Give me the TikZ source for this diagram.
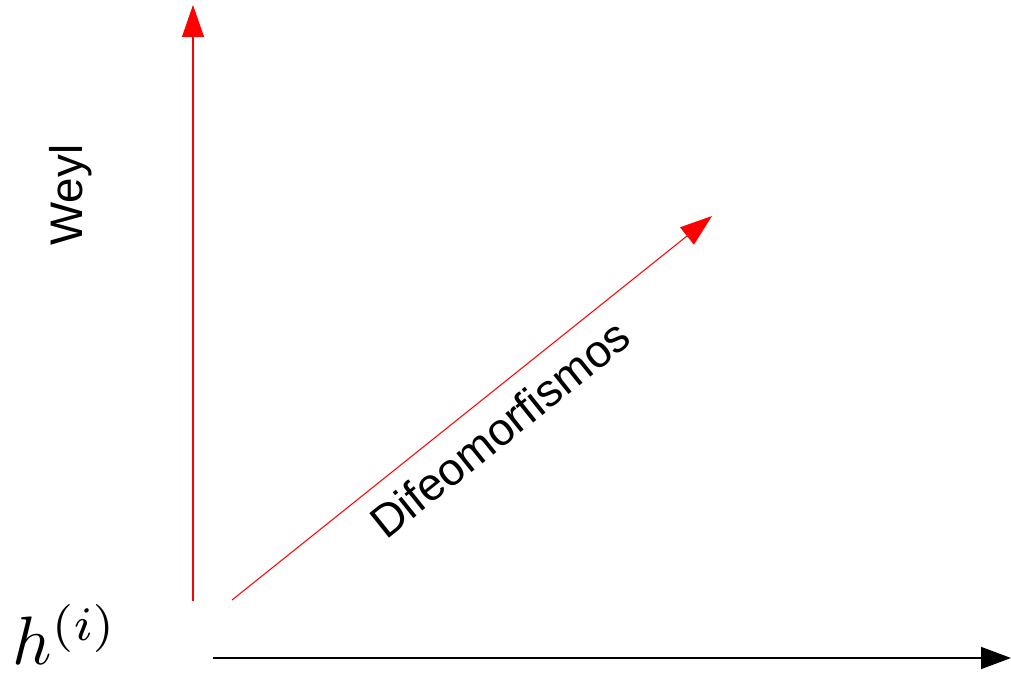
\documentclass[tikz,border=0pt]{standalone}
\usepackage{fontspec}
\setmainfont{Liberation Sans}
\usepackage{tikz}
\usetikzlibrary{arrows.meta, positioning, calc}
\tikzset{
  redarrow/.style   = {red, line width=0.6pt, -{Triangle[length=0.64cm, width=0.44cm]}},
  blackarrow/.style = {black, line width=0.9pt, -{Triangle[length=0.6cm, width=0.44cm]}},
  axislabel/.style  = {inner sep=0pt, font=\fontsize{26}{30}\selectfont},
}

\begin{document}
\begin{tikzpicture}

    \useasboundingbox (0,0) rectangle (20.22,13.5);

    %% End points of the arrows
    \coordinate (w0)   at (3.86, 1.48);
    \coordinate (wtip) at (3.86, 13.40);
    \coordinate (d0)   at (4.64, 1.50);
    \coordinate (dtip) at (14.24, 9.18);
    \coordinate (h0)   at (4.26, 0.34);
    \coordinate (htip) at (20.22, 0.34);

    %% Arrows
    \draw[redarrow]   (w0) -- (wtip);
    \draw[redarrow]   (d0) -- (dtip);
    \draw[blackarrow] (h0) -- (htip);

    %% Labels
    \node[axislabel, rotate=90, anchor=base] (weyl) at (1.64, 9.6) {Weyl};
    \node[axislabel, rotate=38.66, anchor=base] (difeo)
          at ($(d0)!0.514!(dtip)!1cm!-90:(dtip)$) {Difeomorfismos};
    \node[inner sep=0pt, anchor=base west, scale=3.9]
          (hfield) at (0.22, 0.2) {$h^{(i)}$};

  \end{tikzpicture}
\end{document}
